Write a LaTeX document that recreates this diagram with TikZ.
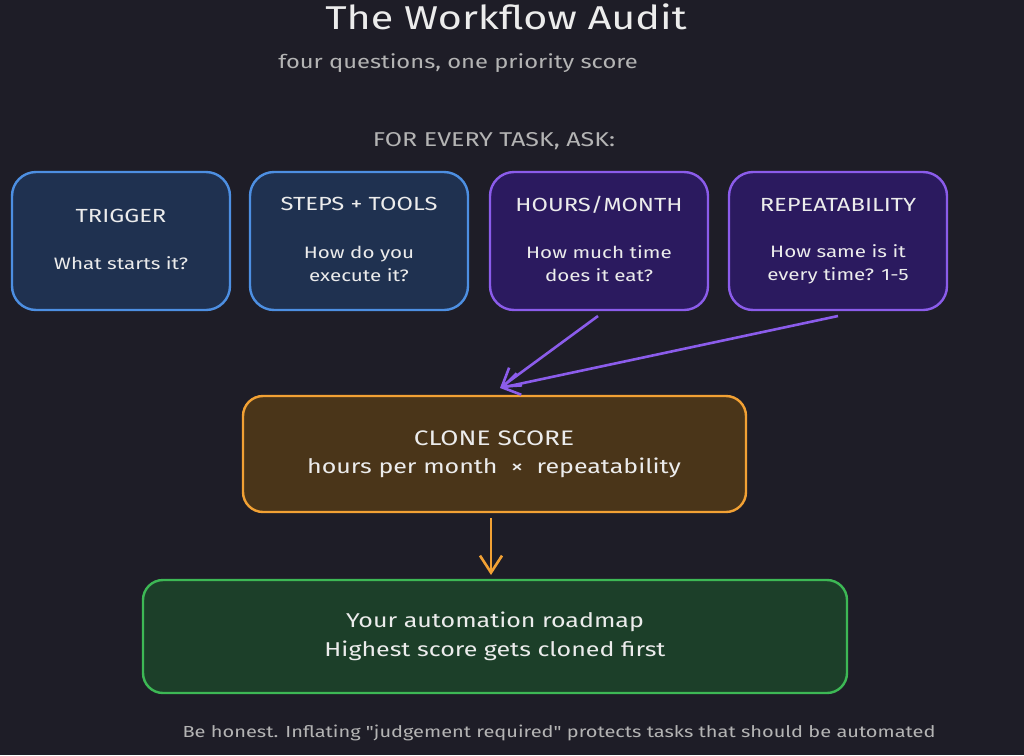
\documentclass[tikz,border=0pt]{standalone}
\usepackage{fontspec}
\setmainfont{Fira Sans}[FakeStretch=1.25]
\newfontfamily\plainquote{Fira Sans}[FakeStretch=1.25, Ligatures=ResetAll]
\usetikzlibrary{arrows.meta}
\definecolor{bg}{HTML}{1E1D27}
\definecolor{bluefill}{HTML}{1F3150}
\definecolor{blueline}{HTML}{4D8FE2}
\definecolor{purpfill}{HTML}{2B1A5F}
\definecolor{purpline}{HTML}{8B5CEB}
\definecolor{brownfill}{HTML}{4A3519}
\definecolor{orangeline}{HTML}{F2A134}
\definecolor{greenfill}{HTML}{1C3F29}
\definecolor{greenline}{HTML}{3DB855}
\definecolor{txt}{HTML}{ECECEC}
\definecolor{gtxt}{HTML}{B4B4B4}
\newcommand{\dq}{{\plainquote"}}
\tikzset{
  card/.style={draw, line width=2.4pt, rounded corners=24pt, text=txt, align=center, inner sep=0pt},
  bluecard/.style={card, draw=blueline, fill=bluefill, minimum width=218pt, minimum height=138pt},
  purpcard/.style={card, draw=purpline, fill=purpfill, minimum width=218pt, minimum height=138pt},
  hdr/.style={text=txt, font=\fontsize{19}{22}\selectfont},
  body/.style={text=txt, align=center, font=\fontsize{16.5}{23}\selectfont},
  note/.style={text=gtxt},
  flow/.style={line width=2.6pt, -{Straight Barb[length=17pt,width=22pt,line width=2.6pt]}}
}
\begin{document}
\begin{tikzpicture}[x=1pt,y=-1pt]
\fill[bg] (0,0) rectangle (1024,755);
\useasboundingbox (0,0) rectangle (1024,755);
\node[text=txt, font=\fontsize{33}{36}\selectfont] (title) at (506,17) {The Workflow Audit};
\node[note, font=\fontsize{19}{22}\selectfont] (sub) at (458,63) {four questions, one priority score};
\node[note, font=\fontsize{20}{23}\selectfont] (for) at (494,141) {FOR EVERY TASK, ASK:};
% cards
\node[bluecard] (trig) at (121,241) {};
\node[bluecard] (steps) at (359,241) {};
\node[purpcard] (hours) at (599,241) {};
\node[purpcard] (rep) at (838,241) {};
\node[hdr] (trigh) at (121,216) {TRIGGER};
\node[body] (trigb) at (121,263) {What starts it?};
\node[hdr] (stepsh) at (359,204) {STEPS + TOOLS};
\node[body] (stepsb) at (359,264) {How do you\\execute it?};
\node[hdr] (hoursh) at (599,205) {HOURS/MONTH};
\node[body] (hoursb) at (599,264) {How much time\\does it eat?};
\node[hdr] (reph) at (838,205) {REPEATABILITY};
\node[body] (repb) at (838,264) {How same is it\\every time? 1-5};
% clone score
\node[card, draw=orangeline, fill=brownfill, rounded corners=20pt, minimum width=503pt, minimum height=116pt] (clone) at (494.5,454) {};
\node[text=txt, font=\fontsize{21}{24}\selectfont] (cloneh) at (494,438) {CLONE SCORE};
\node[text=txt, font=\fontsize{20}{23}\selectfont] (cloneb) at (494,468) {hours per month\ \ ×\ \ repeatability};
% roadmap
\node[card, draw=greenline, fill=greenfill, rounded corners=20pt, minimum width=704pt, minimum height=113pt] (road) at (495,636.5) {};
\node[text=txt, align=center, font=\fontsize{20}{29}\selectfont] (roadt) at (495,636.5) {Your automation roadmap\\Highest score gets cloned first};
% connectors
\coordinate (tip) at (500,388);
\coordinate (hs) at (598,316);
\coordinate (rs) at (838,316);
\draw[flow, purpline] (hs) -- (tip);
\draw[flow, purpline] (rs) -- (tip);
\coordinate (cs) at (491,518);
\coordinate (ce) at (491,575);
\draw[flow, orangeline, line width=2.2pt] (cs) -- (ce);
% footer
\node[note, font=\fontsize{16}{19}\selectfont] (foot) at (559,733) {Be honest. Inflating \dq judgement required\dq{} protects tasks that should be automated};
\end{tikzpicture}
\end{document}
